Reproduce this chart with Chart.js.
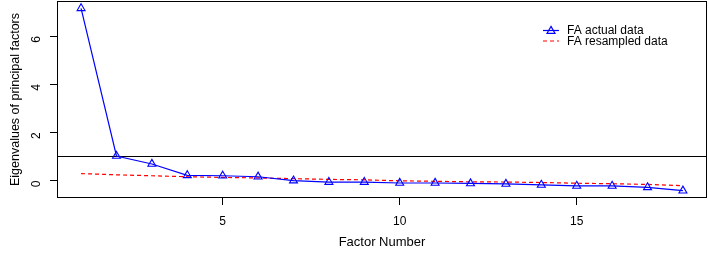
<!DOCTYPE html>
<html>
<head>
<meta charset="utf-8">
<script src="https://cdn.jsdelivr.net/npm/chart.js@4.4.1/dist/chart.umd.min.js"></script>
<style>
  body { margin: 0; background: #fff; }
  #wrap { width: 709px; height: 255px; }
</style>
</head>
<body>
<div id="wrap"><canvas id="scree" width="709" height="255"></canvas></div>
<script>
// factor numbers 1..18
const factors = [1, 2, 3, 4, 5, 6, 7, 8, 9, 10, 11, 12, 13, 14, 15, 16, 17, 18];
const actualEigen = [7.15, 1.02, 0.69, 0.22, 0.20, 0.16, 0.00, -0.06, -0.06, -0.10, -0.10, -0.12, -0.14, -0.18, -0.22, -0.22, -0.28, -0.42];
const resampledEigen = [0.29, 0.24, 0.20, 0.16, 0.13, 0.11, 0.08, 0.05, 0.03, -0.01, -0.03, -0.05, -0.06, -0.08, -0.11, -0.13, -0.16, -0.21];
const xTicks = [5, 10, 15];
const yTicks = [0, 2, 4, 6];
const refLine = 1;

const FONT = "'Liberation Sans', Arial, Helvetica, sans-serif";

// R style axis ranges (data range + 4%)
function padRange(vals) {
  const lo = Math.min(...vals), hi = Math.max(...vals);
  const d = (hi - lo) * 0.04;
  return [lo - d, hi + d];
}
const xr = padRange(factors);
const yr = padRange(actualEigen.concat(resampledEigen));

const toPts = (ys) => factors.map((f, i) => ({ x: f, y: ys[i] }));

// fixed axis boxes, no extra label padding
function fixBox(size) {
  return s => {
    if (s.isHorizontal()) s.height = size; else s.width = size;
    s.paddingTop = s.paddingBottom = s.paddingLeft = s.paddingRight = 0;
  };
}

// box round the plot + horizontal reference line
const boxPlugin = {
  id: 'box',
  beforeDatasetsDraw(chart) {
    const { ctx, chartArea: a, scales } = chart;
    const y = Math.round(scales.y.getPixelForValue(refLine)) + 0.5;
    ctx.save();
    ctx.strokeStyle = '#000';
    ctx.lineWidth = 1;
    ctx.beginPath();
    ctx.moveTo(a.left, y);
    ctx.lineTo(a.right, y);
    ctx.stroke();
    ctx.restore();
  },
  afterDraw(chart) {
    const { ctx, chartArea: a } = chart;
    ctx.save();
    ctx.strokeStyle = '#000';
    ctx.lineWidth = 1;
    ctx.strokeRect(a.left + 0.5, a.top + 0.5, a.right - a.left - 1, a.bottom - a.top - 1);
    ctx.restore();
  }
};

// legend without box, top right inside the plot
const legendPlugin = {
  id: 'rlegend',
  afterDraw(chart) {
    const { ctx } = chart;
    const x0 = 543, x1 = 559, tx = 567;
    let y = 30;
    ctx.save();
    ctx.font = '12px ' + FONT;
    ctx.textBaseline = 'middle';
    chart.data.datasets.forEach(ds => {
      ctx.strokeStyle = ds.borderColor;
      ctx.lineWidth = ds.borderWidth;
      ctx.setLineDash(ds.borderDash || []);
      ctx.beginPath();
      ctx.moveTo(x0, y + 0.5);
      ctx.lineTo(x1, y + 0.5);
      ctx.stroke();
      ctx.setLineDash([]);
      if (ds.pointRadius > 0) {
        ctx.fillStyle = 'rgba(0,0,0,0)';
        Chart.helpers.drawPoint(ctx, { pointStyle: ds.pointStyle, radius: ds.pointRadius, borderWidth: ds.pointBorderWidth, rotation: 0 }, (x0 + x1) / 2, y + 1);
      }
      ctx.fillStyle = '#000';
      ctx.fillText(ds.label, tx, y + 1);
      y += 10.5;
    });
    ctx.restore();
  }
};

new Chart(document.getElementById('scree').getContext('2d'), {
  type: 'line',
  data: {
    datasets: [
      {
        label: 'FA actual data',
        data: toPts(actualEigen),
        borderColor: '#0000ff',
        borderWidth: 1.2,
        pointStyle: 'triangle',
        pointRadius: 4.6,
        pointBorderWidth: 1.1,
        pointBorderColor: '#0000ff',
        pointBackgroundColor: 'rgba(0,0,0,0)',
        tension: 0
      },
      {
        label: 'FA resampled data',
        data: toPts(resampledEigen),
        borderColor: '#ff0000',
        borderWidth: 1.2,
        borderDash: [4, 3],
        pointRadius: 0,
        tension: 0
      }
    ]
  },
  options: {
    responsive: false,
    animation: false,
    layout: { autoPadding: false, padding: { top: 1, right: 2, left: 0, bottom: 0 } },
    plugins: {
      legend: { display: false },
      tooltip: { enabled: false }
    },
    scales: {
      x: {
        type: 'linear',
        min: xr[0],
        max: xr[1],
        afterBuildTicks: s => { s.ticks = xTicks.map(v => ({ value: v })); },
        afterFit: fixBox(57),
        grid: { drawOnChartArea: false, drawTicks: true, tickLength: 7, tickColor: '#000' },
        border: { display: false },
        ticks: { color: '#000', font: { family: FONT, size: 12 }, padding: 9, maxRotation: 0 },
        title: { display: true, text: 'Factor Number', color: '#000', font: { family: FONT, size: 13 }, padding: { top: 0, bottom: 5 } }
      },
      y: {
        min: yr[0],
        max: yr[1],
        afterBuildTicks: s => { s.ticks = yTicks.map(v => ({ value: v })); },
        afterFit: fixBox(57),
        grid: { drawOnChartArea: false, drawTicks: true, tickLength: 7, tickColor: '#000' },
        border: { display: false },
        ticks: { color: '#000', font: { family: FONT, size: 12 }, padding: 13, minRotation: 90, maxRotation: 90 },
        title: { display: true, text: 'Eigenvalues of principal factors', color: '#000', font: { family: FONT, size: 12.5 }, padding: { top: 8, bottom: 0 } }
      }
    }
  },
  plugins: [boxPlugin, legendPlugin]
});
</script>
</body>
</html>
